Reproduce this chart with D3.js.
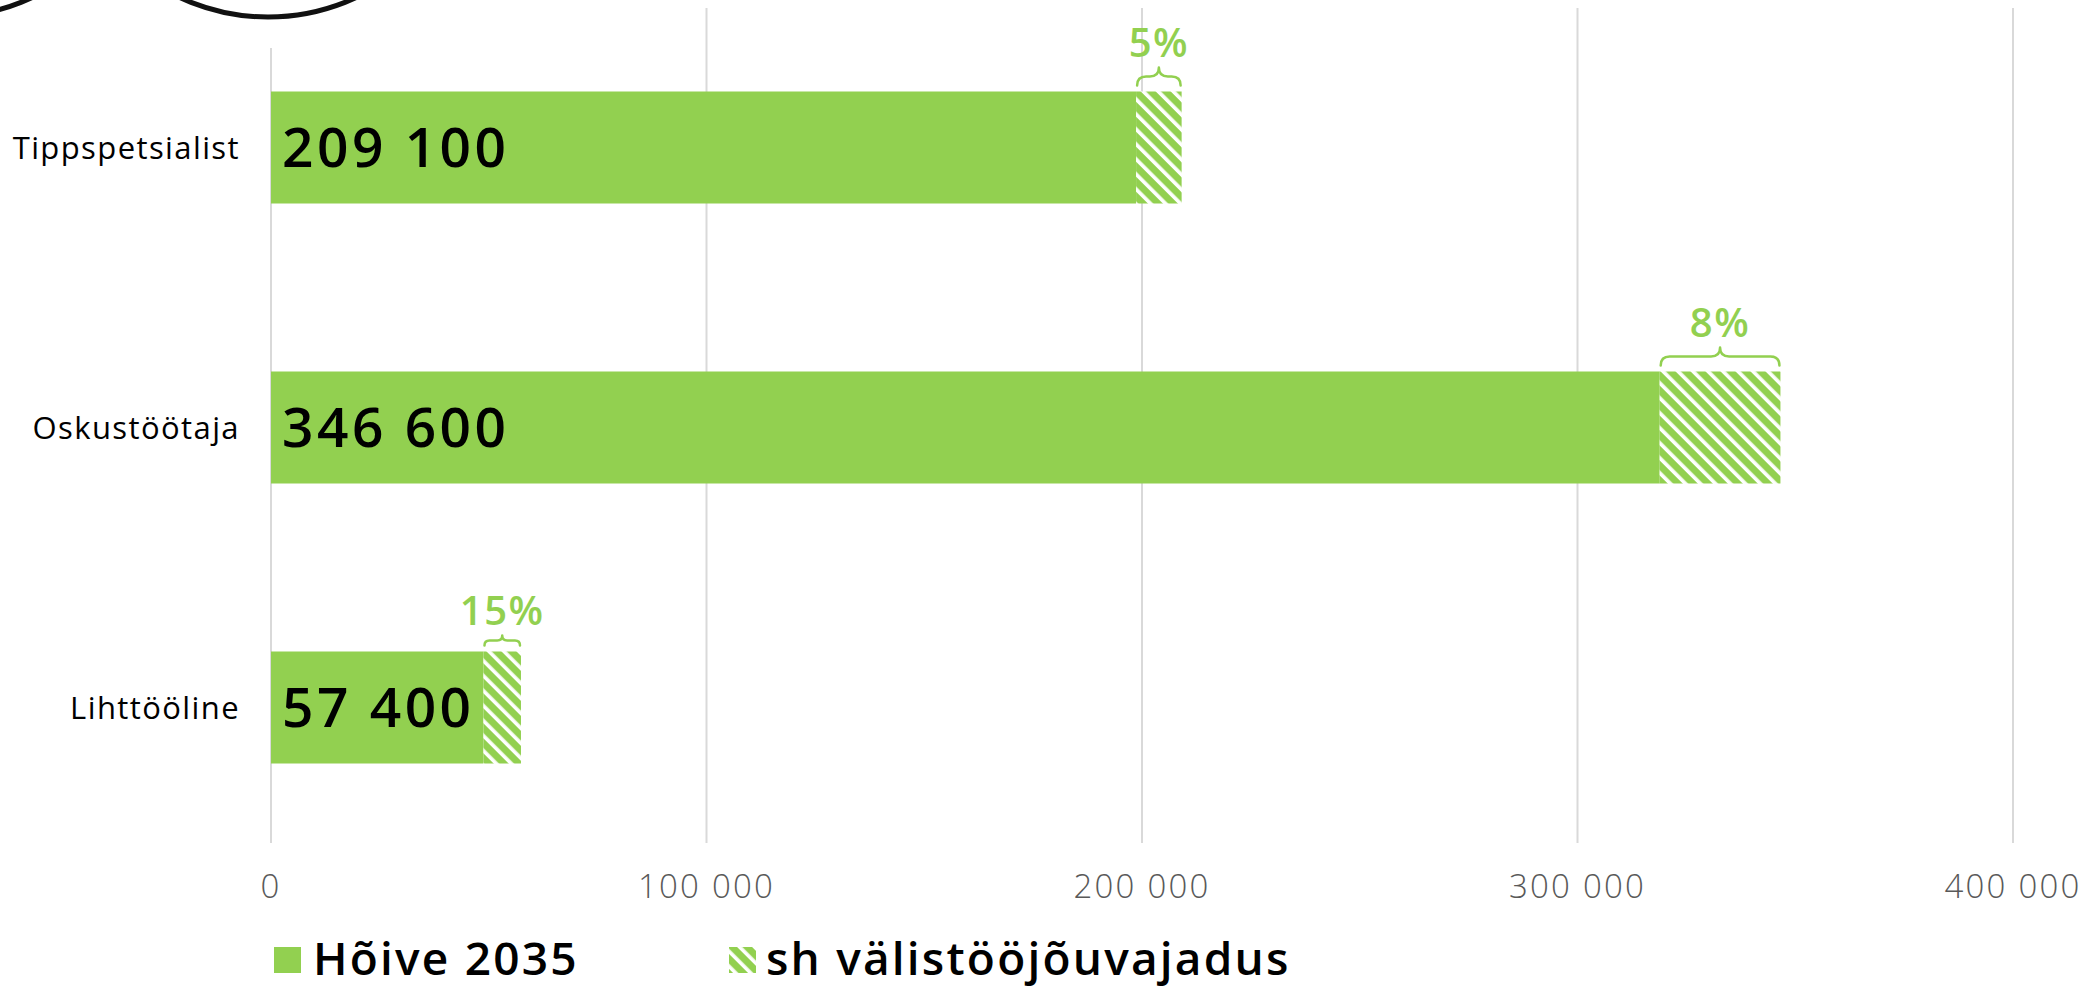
<!DOCTYPE html>
<html lang="et">
<head>
<meta charset="utf-8">
<title>Hõive 2035 ja välistööjõuvajadus</title>
<script src="https://cdn.jsdelivr.net/npm/d3@7"></script>
<style>
  html, body { margin: 0; padding: 0; background: #ffffff; }
  svg { display: block; }
</style>
</head>
<body>
<svg id="chart" width="2093" height="987"></svg>
<script>
// Employment in 2035 by skill level, with the share met by foreign labour
const categories = ["Tippspetsialist", "Oskustöötaja", "Lihttööline"];
const employment2035 = [209100, 346600, 57400];
const gapShare = [0.05, 0.08, 0.15];
const xTicks = [0, 100000, 200000, 300000, 400000];
const legendLabels = ["Hõive 2035", "sh välistööjõuvajadus"];

const GREEN = "#92D050";
const FONT = "'Open Sans', 'Noto Sans', sans-serif";

const svg = d3.select("#chart");
const fmt = v => d3.format(",")(v).replace(/,/g, " ");
const pct = d3.format(".0%");

const x = d3.scaleLinear().domain([0, 400000]).range([271, 2013]);
const y = d3.scaleBand().domain(categories).range([7.5, 847.5])
  .paddingInner(0.6).paddingOuter(0.3);

// diagonal hatch used for the foreign-labour part
const defs = svg.append("defs");
const pat = defs.append("pattern")
  .attr("id", "hatch")
  .attr("patternUnits", "userSpaceOnUse")
  .attr("width", 10.6).attr("height", 10.6)
  .attr("patternTransform", "rotate(45)");
pat.append("rect").attr("width", 10.6).attr("height", 10.6).attr("fill", "#ffffff");
pat.append("rect").attr("width", 10.6).attr("height", 7).attr("fill", GREEN);

// decorative rings at the top left
svg.append("g").selectAll("circle")
  .data([[-56, -192], [268, -192]])
  .join("circle")
  .attr("cx", d => d[0]).attr("cy", d => d[1]).attr("r", 209)
  .attr("fill", "none").attr("stroke", "#111").attr("stroke-width", 5);

// vertical gridlines
svg.append("g").selectAll("line")
  .data(xTicks)
  .join("line")
  .attr("x1", d => x(d)).attr("x2", d => x(d))
  .attr("y1", d => d === 0 ? 48 : 8).attr("y2", 843)
  .attr("stroke", "#d9d9d9").attr("stroke-width", 2);

// tick labels
svg.append("g").selectAll("text")
  .data(xTicks)
  .join("text")
  .attr("x", d => x(d)).attr("y", 898)
  .attr("text-anchor", "middle")
  .attr("font-family", FONT).attr("font-size", 33).attr("font-weight", 300)
  .attr("letter-spacing", 2.2)
  .attr("fill", "#595959")
  .text(d => fmt(d));

const rows = categories.map((c, i) => ({
  cat: c,
  total: employment2035[i],
  share: gapShare[i],
  base: employment2035[i] * (1 - gapShare[i])
}));

const g = svg.append("g");

// solid part of the bar
g.selectAll("rect.solid")
  .data(rows).join("rect").attr("class", "solid")
  .attr("x", x(0)).attr("y", d => y(d.cat))
  .attr("width", d => x(d.base) - x(0))
  .attr("height", y.bandwidth())
  .attr("fill", GREEN);

// hatched part of the bar
g.selectAll("rect.gap")
  .data(rows).join("rect").attr("class", "gap")
  .attr("x", d => x(d.base)).attr("y", d => y(d.cat))
  .attr("width", d => x(d.total) - x(d.base))
  .attr("height", y.bandwidth())
  .attr("fill", "url(#hatch)");

// curly brace over the hatched part
function bracePath(x0, x1, yb, depth) {
  const xm = (x0 + x1) / 2;
  const yh = yb - depth / 2;
  const yt = yb - depth;
  const r = Math.min(depth / 2, (x1 - x0) / 4);
  return `M${x0},${yb} L${x0},${yh + r} Q${x0},${yh} ${x0 + r},${yh}`
    + ` L${xm - r},${yh} Q${xm},${yh} ${xm},${yh - r} L${xm},${yt}`
    + ` M${xm},${yh - r} Q${xm},${yh} ${xm + r},${yh}`
    + ` L${x1 - r},${yh} Q${x1},${yh} ${x1},${yh + r} L${x1},${yb}`;
}
const braceDepth = w => Math.min(18, Math.max(10, (w - 27) * 1.1));

rows.forEach(d => {
  const x0 = x(d.base) + 1, x1 = x(d.total) - 1;
  const yb = y(d.cat) - 6;
  const dep = braceDepth(x1 - x0);
  g.append("path")
    .attr("d", bracePath(x0, x1, yb, dep))
    .attr("fill", "none").attr("stroke", GREEN)
    .attr("stroke-width", 2.5).attr("stroke-linecap", "round");
  g.append("text")
    .attr("x", (x(d.base) + x(d.total)) / 2)
    .attr("y", yb - dep - 11)
    .attr("text-anchor", "middle")
    .attr("font-family", FONT).attr("font-size", 40).attr("font-weight", 600)
    .attr("letter-spacing", 1.5)
    .attr("fill", GREEN)
    .text(pct(d.share));
});

// value labels inside the bars
g.selectAll("text.value")
  .data(rows).join("text").attr("class", "value")
  .attr("x", x(0) + 11)
  .attr("y", d => y(d.cat) + y.bandwidth() / 2 + 19)
  .attr("font-family", FONT).attr("font-size", 55).attr("font-weight", 600)
  .attr("letter-spacing", 3.5)
  .attr("fill", "#000")
  .text(d => fmt(d.total));

// category labels
g.selectAll("text.cat")
  .data(rows).join("text").attr("class", "cat")
  .attr("x", 240)
  .attr("y", d => y(d.cat) + y.bandwidth() / 2 + 11)
  .attr("text-anchor", "end")
  .attr("font-family", FONT).attr("font-size", 31).attr("font-weight", 400)
  .attr("letter-spacing", 1.4)
  .attr("fill", "#000")
  .text(d => d.cat);

// legend
const legend = svg.append("g");
const legendItems = [
  { label: legendLabels[0], fill: GREEN, sx: 274, tx: 313 },
  { label: legendLabels[1], fill: "url(#hatch)", sx: 729, tx: 766 }
];
legend.selectAll("rect")
  .data(legendItems).join("rect")
  .attr("x", d => d.sx).attr("y", 947)
  .attr("width", 27).attr("height", 26)
  .attr("fill", d => d.fill);
legend.selectAll("text")
  .data(legendItems).join("text")
  .attr("x", d => d.tx).attr("y", 975)
  .attr("font-family", FONT).attr("font-size", 46).attr("font-weight", 600)
  .attr("letter-spacing", 2.2)
  .attr("fill", "#000")
  .text(d => d.label);
</script>
</body>
</html>
